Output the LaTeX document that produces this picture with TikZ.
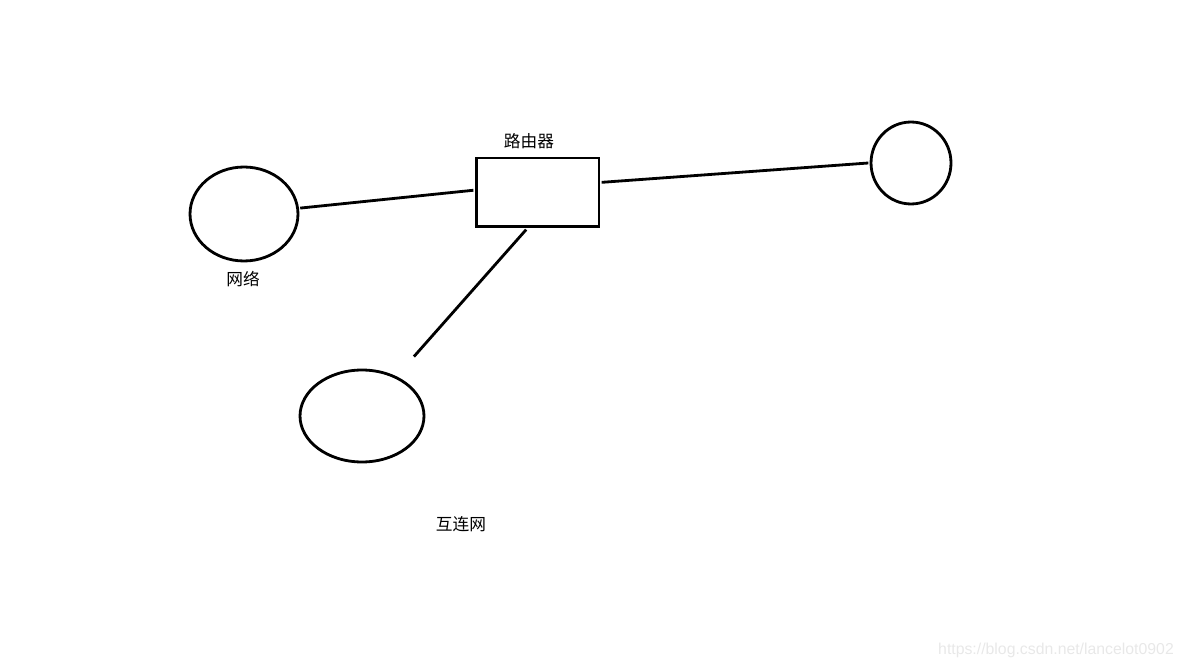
\documentclass[tikz,border=0pt]{standalone}
\usepackage{fontspec}
\usepackage{tikz}
\usetikzlibrary{shapes.geometric}
\newfontfamily\cjk{Noto Sans CJK SC}
\newfontfamily\wmfont{Liberation Sans}
\definecolor{wmgray}{RGB}{232,232,232}

\begin{document}
\begin{tikzpicture}[
    x=0.02cm, y=-0.02cm,
    net/.style={draw, ellipse, line width=1.6pt, inner sep=0pt, outer sep=1.5pt},
    router/.style={draw, rectangle, line width=1.7pt, inner sep=0pt, outer sep=1.5pt,
                   minimum width=2.46cm, minimum height=1.38cm},
    link/.style={line width=1.6pt},
    lbl/.style={font=\cjk\fontsize{9.5}{11}\selectfont, inner sep=1pt}
]
\useasboundingbox (0,0) rectangle (1182,668);

% ================================================================
%  Router and networks
% ================================================================
\node[router] (rt) at (537.5,192.5) {};
\node[lbl] (rtlbl) at (529,141) {路由器};

\node[net, minimum width=2.16cm, minimum height=1.88cm] (netA) at (244,214) {};
\node[lbl] (netAlbl) at (243,279) {网络};

\node[net, minimum width=1.6cm, minimum height=1.64cm] (netB) at (911,163) {};

\node[net, minimum width=2.48cm, minimum height=1.84cm] (inet) at (362,416) {};
\node[lbl] (inetlbl) at (461,524) {互连网};

% links
\draw[link] (netA.6) -- (rt.178);
\draw[link] (rt.9) -- (netB.180);
\draw[link, shorten >=0.5cm] (rt.253) -- (inet.49);

% watermark
\node[font=\wmfont\fontsize{9}{10}\selectfont, text=wmgray, inner sep=0pt] (wm) at (1056,650) {https://blog.csdn.net/lancelot0902};
\end{tikzpicture}
\end{document}
